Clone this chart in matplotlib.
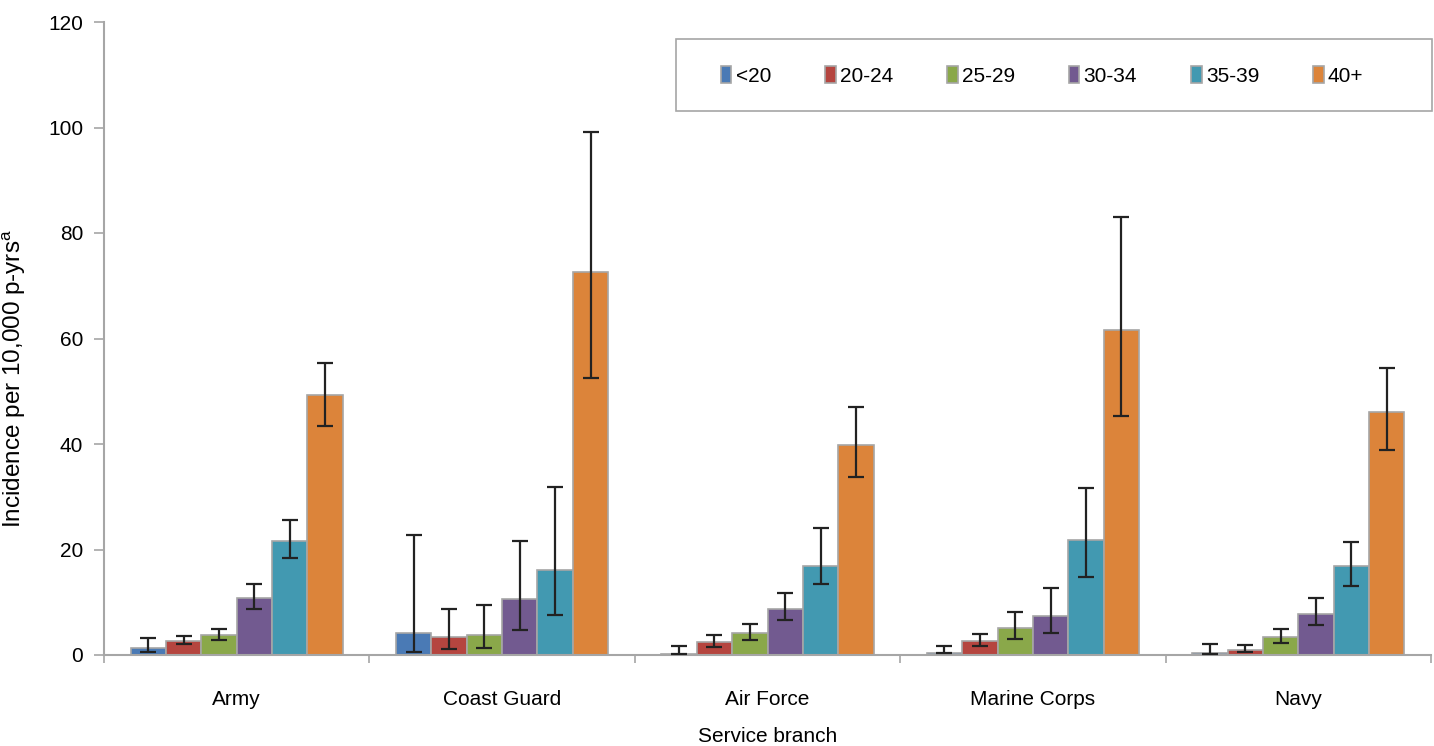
import numpy as np
import matplotlib.pyplot as plt
from matplotlib.patches import Rectangle

plt.rcParams['font.family'] = ['Liberation Sans', 'DejaVu Sans']

branches = ['Army', 'Coast Guard', 'Air Force', 'Marine Corps', 'Navy']
age_groups = ['<20', '20-24', '25-29', '30-34', '35-39', '40+']

# incidence per age group, one row per age group, one column per branch
rates = [
    [1.3, 4.2, 0.2, 0.3, 0.3],      # <20
    [2.6, 3.5, 2.5, 2.6, 1.0],      # 20-24
    [3.8, 3.8, 4.1, 5.1, 3.4],      # 25-29
    [10.9, 10.6, 8.8, 7.4, 7.8],    # 30-34
    [21.7, 16.1, 16.9, 21.8, 16.8], # 35-39
    [49.2, 72.6, 39.9, 61.6, 46.0], # 40+
]
ci_low = [
    [0.6, 0.6, 0.1, 0.3, 0.2],
    [2.1, 1.2, 1.6, 1.7, 0.5],
    [2.8, 1.3, 2.9, 3.1, 2.2],
    [8.7, 4.7, 6.6, 4.2, 5.6],
    [18.3, 7.6, 13.4, 14.7, 13.1],
    [43.5, 52.5, 33.8, 45.3, 38.9],
]
ci_high = [
    [3.2, 22.7, 1.7, 1.8, 2.1],
    [3.6, 8.8, 3.8, 4.0, 1.9],
    [5.0, 9.5, 5.8, 8.1, 5.0],
    [13.5, 21.6, 11.8, 12.7, 10.9],
    [25.5, 31.8, 24.0, 31.7, 21.4],
    [55.3, 99.2, 47.1, 83.0, 54.5],
]

colors = ['#4a7ab5', '#b5453f', '#8aa84a', '#725a90', '#4299b1', '#dc843a']

W, H = 1434, 746
fig = plt.figure(figsize=(W / 100, H / 100), dpi=100)
ax = fig.add_axes([104 / W, 1 - 655 / H, 1327 / W, 633 / H])

x = np.arange(len(branches))
width = 0.8 / len(age_groups)
for i, grp in enumerate(age_groups):
    vals = np.array(rates[i])
    lo = vals - np.array(ci_low[i])
    hi = np.array(ci_high[i]) - vals
    pos = x - 0.4 + width * (i + 0.5)
    ax.bar(pos, vals, width, color=colors[i], edgecolor='#a6a6a6', linewidth=1.2, label=grp, zorder=2)
    ax.errorbar(pos, vals, yerr=[lo, hi], fmt='none', ecolor='#222222', elinewidth=1.6,
                capsize=5.5, capthick=1.6, zorder=3)

ax.set_xlim(-0.5, len(branches) - 0.5)
ax.set_ylim(0, 120)
ax.set_yticks(range(0, 121, 20))
ax.set_xticks(x)
ax.set_xticklabels(branches)
ax.set_xticks(np.arange(-0.5, len(branches)), minor=True)
ax.tick_params(axis='x', which='major', length=0, pad=25, labelsize=15)
ax.tick_params(axis='x', which='minor', length=6, color='#a6a6a6', width=1.2)
ax.tick_params(axis='y', length=7, color='#a6a6a6', width=1.2, labelsize=15, pad=8)

for s in ['top', 'right']:
    ax.spines[s].set_visible(False)
for s in ['left', 'bottom']:
    ax.spines[s].set_color('#a6a6a6')
    ax.spines[s].set_linewidth(1.5)

ax.set_xlabel('Service branch', fontsize=15, labelpad=13)
ax.set_ylabel('Incidence per 10,000 p-yrs$^{\\mathregular{a}}$', fontsize=17.5)
ax.yaxis.set_label_coords((28 - 104) / 1327, (655 - 379) / 633)

# legend box drawn separately so the padding matches the original
fig.patches.append(Rectangle((676 / W, 1 - 111 / H), 756 / W, 72 / H, transform=fig.transFigure,
                             facecolor='white', edgecolor='#a6a6a6', linewidth=1.2, zorder=1))
leg = fig.legend(loc='center left', bbox_to_anchor=(721 / W, 1 - 76 / H), ncol=6, fontsize=15,
                 frameon=False, handlelength=0.5, handleheight=0.85,
                 handletextpad=0.2, columnspacing=2.6, borderpad=0, borderaxespad=0)
for h in leg.legend_handles:
    h.set_edgecolor('#a6a6a6')

fig.savefig('out.png', dpi=100)
